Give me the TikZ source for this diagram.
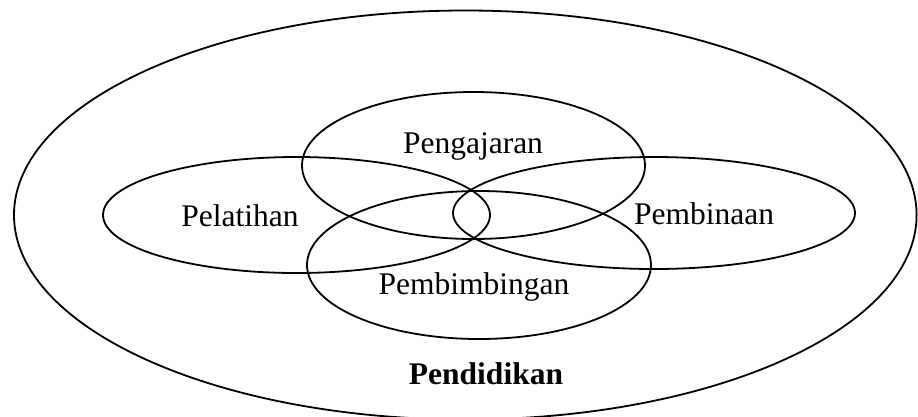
\documentclass[tikz,border=0pt]{standalone}
\usepackage{fontspec}
\setmainfont{Liberation Serif}
\usetikzlibrary{shapes.geometric}
\begin{document}
\begin{tikzpicture}[x=1pt,y=-1pt,
  ring/.style={draw=black,line width=1.8pt,ellipse,inner sep=0pt,outer sep=0pt},
  lbl/.style={anchor=base,inner sep=0pt,font=\fontsize{31.5}{36}\selectfont}]
\useasboundingbox (0,0) rectangle (918,416);
\clip (0,0) rectangle (918,416);
\node[ring,minimum width=902.6pt,minimum height=409pt] (pendidikan) at (465.3,215) {};
\node[ring,minimum width=343pt,minimum height=147pt] (pengajaran) at (473.5,165.5) {};
\node[ring,minimum width=387pt,minimum height=116pt] (pelatihan) at (296.5,215) {};
\node[ring,minimum width=402pt,minimum height=112pt] (pembinaan) at (654,213) {};
\node[ring,minimum width=344pt,minimum height=148pt] (pembimbingan) at (479,265) {};
\node[lbl] (tpengajaran) at (473,153) {Pengajaran};
\node[lbl] (tpelatihan) at (240,226.7) {Pelatihan};
\node[lbl] (tpembinaan) at (704,224.3) {Pembinaan};
\node[lbl] (tpembimbingan) at (474,294.3) {Pembimbingan};
\node[lbl,font=\fontsize{31.5}{36}\selectfont\bfseries] (tpendidikan) at (486,384) {Pendidikan};
\end{tikzpicture}
\end{document}
